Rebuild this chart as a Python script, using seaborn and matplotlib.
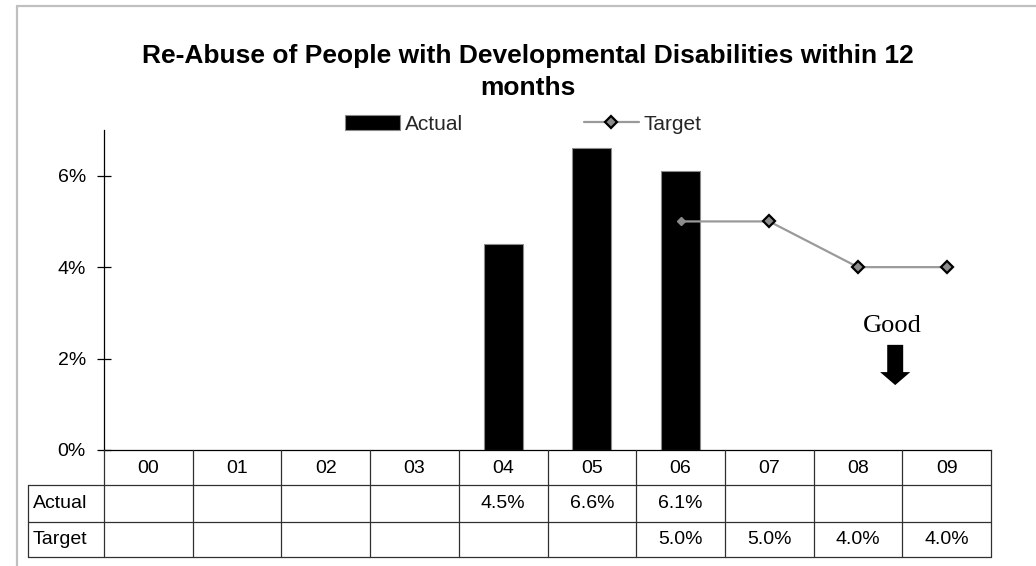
import numpy as np
import pandas as pd
import matplotlib
matplotlib.use("Agg")
import matplotlib.pyplot as plt
from matplotlib.lines import Line2D
from matplotlib.patches import Patch, FancyArrow
import seaborn as sns

# ---- data -------------------------------------------------------------
years = ["00", "01", "02", "03", "04", "05", "06", "07", "08", "09"]
actual_years = ["04", "05", "06"]
actual_values = [4.5, 6.6, 6.1]          # percent
target_years = ["06", "07", "08", "09"]
target_values = [5.0, 5.0, 4.0, 4.0]     # percent
y_ticks = [0, 2, 4, 6]
y_max = 7
title = "Re-Abuse of People with Developmental Disabilities within 12\nmonths"
row_labels = ["Actual", "Target"]

# ---- style ------------------------------------------------------------
sns.set_theme(style="white")
plt.rcParams["font.family"] = ["Liberation Sans", "DejaVu Sans"]

W, H = 1036, 566
fig = plt.figure(figsize=(W / 100, H / 100), dpi=100)
ax = fig.add_axes([104 / W, 1 - 450 / H, 887 / W, 320 / H])

BAR_COLOR = "black"
LINE_GRAY = "#9a9a9a"
MARK_GRAY = "#8c8c8c"
GRID_COLOR = "#303030"

# ---- bars -------------------------------------------------------------
df_actual = pd.DataFrame({"year": actual_years, "value": actual_values})
sns.barplot(data=df_actual, x="year", y="value", order=years, color=BAR_COLOR,
            saturation=1, width=0.44, edgecolor="#8a8a8a", linewidth=0.8,
            errorbar=None, ax=ax, zorder=2)

# ---- target line ------------------------------------------------------
df_target = pd.DataFrame({"year": target_years, "value": target_values})
sns.lineplot(data=df_target, x="year", y="value", color=LINE_GRAY, linewidth=1.6,
             marker="D", markersize=6.5, markerfacecolor=MARK_GRAY,
             markeredgecolor="black", markeredgewidth=1.6,
             markevery=list(range(1, len(target_years))), ax=ax, zorder=3)
ax.plot(target_years[:1], target_values[:1], linestyle="none", marker="D",
        markersize=4.5, color=MARK_GRAY, zorder=4)

# ---- axes -------------------------------------------------------------
ax.set_xlabel("")
ax.set_ylabel("")
ax.set_yticks(y_ticks)
ax.set_yticklabels([f"{t}%" for t in y_ticks])
for side in ("top", "right"):
    ax.spines[side].set_visible(False)
for side in ("left", "bottom"):
    ax.spines[side].set_color("black")
    ax.spines[side].set_linewidth(0.9)
ax.tick_params(axis="y", direction="inout", length=9.4, width=0.9, color="black",
               pad=8.3, labelsize=14, labelcolor="black", left=True)
ax.tick_params(axis="x", length=0, pad=7, labelsize=14, labelcolor="black")

# ---- data table below the axis ---------------------------------------
row_bounds = [0, -35 / 320, -72 / 320, -107 / 320]   # axes fraction
label_left = (28 - 104) / 887

def table_line(x0, x1, y0, y1):
    fig.add_artist(Line2D([x0, x1], [y0, y1], transform=ax.transAxes,
                          color=GRID_COLOR, linewidth=0.9, clip_on=False))

for yb in row_bounds[1:]:
    table_line(label_left, 1, yb, yb)
n = len(years)
for k in range(n + 1):
    table_line(k / n, k / n, 0, row_bounds[-1])
table_line(label_left, label_left, row_bounds[1], row_bounds[-1])

row_series = [dict(zip(actual_years, actual_values)),
              dict(zip(target_years, target_values))]
for r, (lab, series) in enumerate(zip(row_labels, row_series)):
    yc = (row_bounds[r + 1] + row_bounds[r + 2]) / 2
    fig.text(label_left + 5 / 887, yc, lab, transform=ax.transAxes,
             fontsize=14, ha="left", va="center", color="black")
    for k, yr in enumerate(years):
        if yr in series:
            fig.text((k + 0.5) / n, yc, f"{series[yr]:.1f}%", transform=ax.transAxes,
                     fontsize=14, ha="center", va="center", color="black")

# ---- "Good" direction marker -------------------------------------------
ax.text(8.39, 2.58, "Good", family=["Liberation Serif", "DejaVu Serif"],
        fontsize=19, ha="center", va="baseline", color="black")
ax.add_patch(FancyArrow(8.42, 2.30, 0, -(2.30 - 1.42), width=0.18,
                        head_width=0.34, head_length=0.284,
                        length_includes_head=True, color="black", linewidth=0,
                        zorder=5))
ax.set_xlim(-0.5, len(years) - 0.5)
ax.set_ylim(0, y_max)

# ---- title and legend ---------------------------------------------------
fig.text(528 / W, 1 - 72 / H, title, ha="center", va="center", fontsize=19,
         fontweight="bold", color="black", linespacing=1.4)

handles = [Patch(facecolor=BAR_COLOR, edgecolor="#8a8a8a", linewidth=0.8),
           Line2D([], [], color=LINE_GRAY, linewidth=1.6, marker="D", markersize=6.5,
                  markerfacecolor=MARK_GRAY, markeredgecolor="black",
                  markeredgewidth=1.6)]
fig.legend(handles, row_labels, loc="center", bbox_to_anchor=(523.5 / W, 1 - 124 / H),
           ncol=2, frameon=False, fontsize=15, handlelength=2.64, handleheight=0.72,
           handletextpad=0.24, columnspacing=5.76, borderpad=0, borderaxespad=0)

# ---- chart-area border (top and left) ------------------------------------
border = dict(color="#c0c0c0", linewidth=1.6, transform=fig.transFigure)
fig.add_artist(Line2D([17 / W, 1], [1 - 6 / H, 1 - 6 / H], **border))
fig.add_artist(Line2D([17 / W, 17 / W], [0, 1 - 6 / H], **border))

fig.savefig("out.png", dpi=100, facecolor="white")
